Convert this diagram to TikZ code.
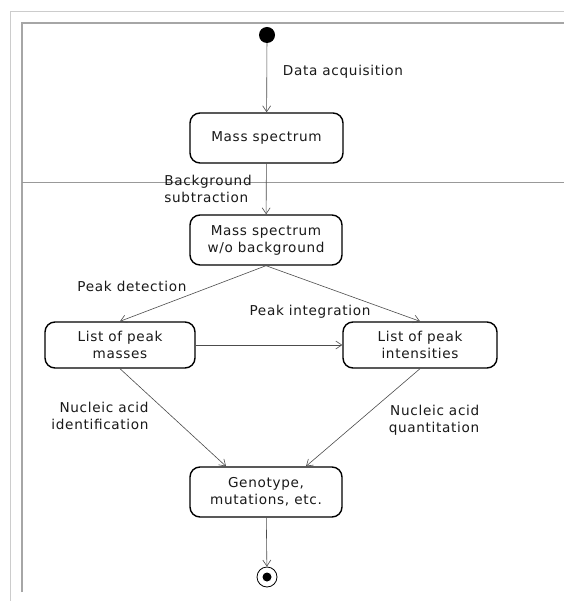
\documentclass[tikz,border=0pt]{standalone}
\usepackage{fontspec}
\setmainfont[LetterSpace=5]{DejaVu Sans}
\usetikzlibrary{arrows.meta,calc}
\begin{document}
\begin{tikzpicture}[x=1pt,y=-1pt,
  state/.style={draw=black,line width=1.4pt,rounded corners=10pt,align=center,
    inner sep=0pt,font=\fontsize{13.6}{17}\selectfont,text=black!90},
  flow/.style={draw=black!70,line width=0.6pt,-{Straight Barb[length=6pt,width=8pt,line width=0.6pt]}},
  lbl/.style={font=\fontsize{13.6}{16.5}\selectfont,text=black!90,align=center,inner sep=0pt}]
\useasboundingbox (0,0) rectangle (564,601);
\fill[white] (0,0) rectangle (564,601);
% frames
\draw[black!20,line width=0.8pt] (10,601) -- (10,11) -- (564,11);
\draw[black!35,line width=1.2pt] (22,592) -- (22,23) -- (564,23);
\draw[black!40,line width=0.6pt] (22,182) -- (564,182);
% states
\fill[black] (267,35) circle (8);
\node[circle,minimum size=16pt,inner sep=0pt] (init) at (267,35) {};
\node[state,minimum width=153pt,minimum height=50pt] (ms) at (266.5,138) {Mass spectrum};
\node[state,minimum width=152pt,minimum height=50pt] (msb) at (266,240) {Mass spectrum\\w/o background};
\node[state,minimum width=150pt,minimum height=46pt] (lpm) at (120,345) {List of peak\\masses};
\node[state,minimum width=154pt,minimum height=46pt] (lpi) at (420,345) {List of peak\\intensities};
\node[state,minimum width=152pt,minimum height=50pt] (geno) at (266,492) {Genotype,\\mutations, etc.};
\node[circle,draw=black,line width=0.8pt,minimum size=20pt,inner sep=0pt] (final) at (267,577) {};
\fill[black] (final.center) circle (4.5);
% transitions
\draw[flow] (init) -- (ms);
\draw[flow] (ms) -- (msb);
\draw[flow] (msb.south) -- (lpm.north);
\draw[flow] (msb.south) -- (lpi.north);
\draw[flow] (lpm) -- (lpi);
\draw[flow] (lpm.south) -- ($(geno.north)+(-40,0)$);
\draw[flow] (lpi.south) -- ($(geno.north)+(40,0)$);
\draw[flow] (geno) -- (final);
% labels
\node[lbl] (l1) at (343,72) {Data acquisition};
\node[lbl,align=left] (l2) at (208,189) {Background\\subtraction};
\node[lbl] (l3) at (132,286) {Peak detection};
\node[lbl] (l4) at (310,312) {Peak integration};
\node[lbl,align=right] (l5) at (100,416) {Nucleic acid\\identification};
\node[lbl,align=right] (l6) at (434,420) {Nucleic acid\\quantitation};
\end{tikzpicture}
\end{document}
